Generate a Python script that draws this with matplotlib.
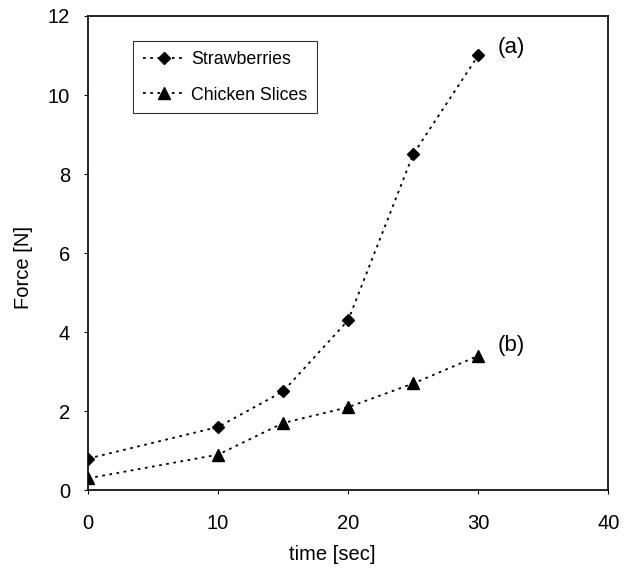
import matplotlib
matplotlib.use("Agg")
import matplotlib.pyplot as plt

plt.rcParams['font.family'] = ['Liberation Sans', 'DejaVu Sans']

time = [0, 10, 15, 20, 25, 30]
strawberries = [0.8, 1.6, 2.5, 4.3, 8.5, 11.0]
chicken = [0.3, 0.9, 1.7, 2.1, 2.7, 3.4]
xticks = [0, 10, 20, 30, 40]
yticks = [0, 2, 4, 6, 8, 10, 12]

fig = plt.figure(figsize=(6.29, 5.70), dpi=100)
ax = fig.add_axes([0.140, 0.140, 0.827, 0.832])

ls = (0, (1.5, 2.5))
ax.plot(time, strawberries, linestyle=ls, color='black', lw=1.3,
        marker='D', markersize=6.5, markerfacecolor='black', label='Strawberries')
ax.plot(time, chicken, linestyle=ls, color='black', lw=1.3,
        marker='^', markersize=8, markerfacecolor='black', label='Chicken Slices')

ax.set_xlim(0, 40)
ax.set_ylim(0, 12)
ax.set_xticks(xticks)
ax.set_yticks(yticks)
ax.tick_params(direction='out', length=3, width=0.8, labelsize=14.5)
ax.tick_params(axis='x', pad=14)
ax.tick_params(axis='y', pad=10)
for s in ax.spines.values():
    s.set_linewidth(1.2)

ax.set_xlabel('time [sec]', fontsize=14.5, labelpad=8)
ax.xaxis.set_label_coords(0.47, -0.115)
ax.set_ylabel('Force [N]', fontsize=14.5)
ax.yaxis.set_label_coords(-0.105, 0.47)

ax.text(31.5, 11.2, '(a)', fontsize=16, va='center', ha='left')
ax.text(31.5, 3.65, '(b)', fontsize=16, va='center', ha='left')

leg = ax.legend(loc='upper left', bbox_to_anchor=(0.087, 0.947), fontsize=12.8,
                frameon=True, fancybox=False, edgecolor='black', handlelength=2.3,
                labelspacing=1.05, borderpad=0.55, handletextpad=0.4, borderaxespad=0)
leg.get_frame().set_linewidth(0.8)

fig.savefig('out.png', dpi=100)
